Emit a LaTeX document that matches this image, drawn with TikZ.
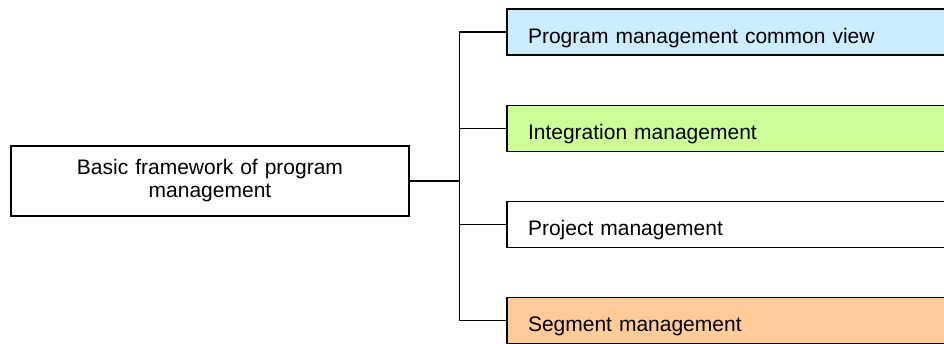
\documentclass[tikz,border=0pt]{standalone}
\usepackage{fontspec}
\setmainfont{Liberation Sans}
\usepackage{xcolor}
\usetikzlibrary{calc}

\definecolor{viewblue}{HTML}{CCECFF}
\definecolor{integgreen}{HTML}{CCFF99}
\definecolor{segorange}{HTML}{FFCC99}

\begin{document}
\begin{tikzpicture}[x=1pt,y=-1pt,line width=1.3pt,
    every node/.style={font=\fontsize{21}{23}\selectfont},
    framebox/.style={draw,minimum width=398pt,minimum height=70pt,text width=300pt,align=center,inner sep=0pt},
    partbox/.style={draw,minimum width=453pt,minimum height=46pt,text width=411pt,align=left,
      inner xsep=21pt,inner ysep=0pt,text height=24pt,text depth=2pt}]
      \useasboundingbox (0,0) rectangle (944,343);
      \clip (0,0) rectangle (944,343);

      \node[framebox] (basic) at (210,181) {Basic framework of program\\management};

      \node[partbox,fill=viewblue]   (common)  at (733.5,32)    {Program management common view};
      \node[partbox,fill=integgreen] (integ)   at (733.5,128.5) {Integration management};
      \node[partbox]                 (project) at (733.5,224.5) {Project management};
      \node[partbox,fill=segorange]  (segment) at (733.5,320.5) {Segment management};

      \coordinate (fork) at ($(basic.east)+(50,0)$);
      \draw (basic.east) -- (fork);
      \foreach \part in {common,integ,project,segment}
        \draw (fork) |- (\part.west);
    \end{tikzpicture}
\end{document}
